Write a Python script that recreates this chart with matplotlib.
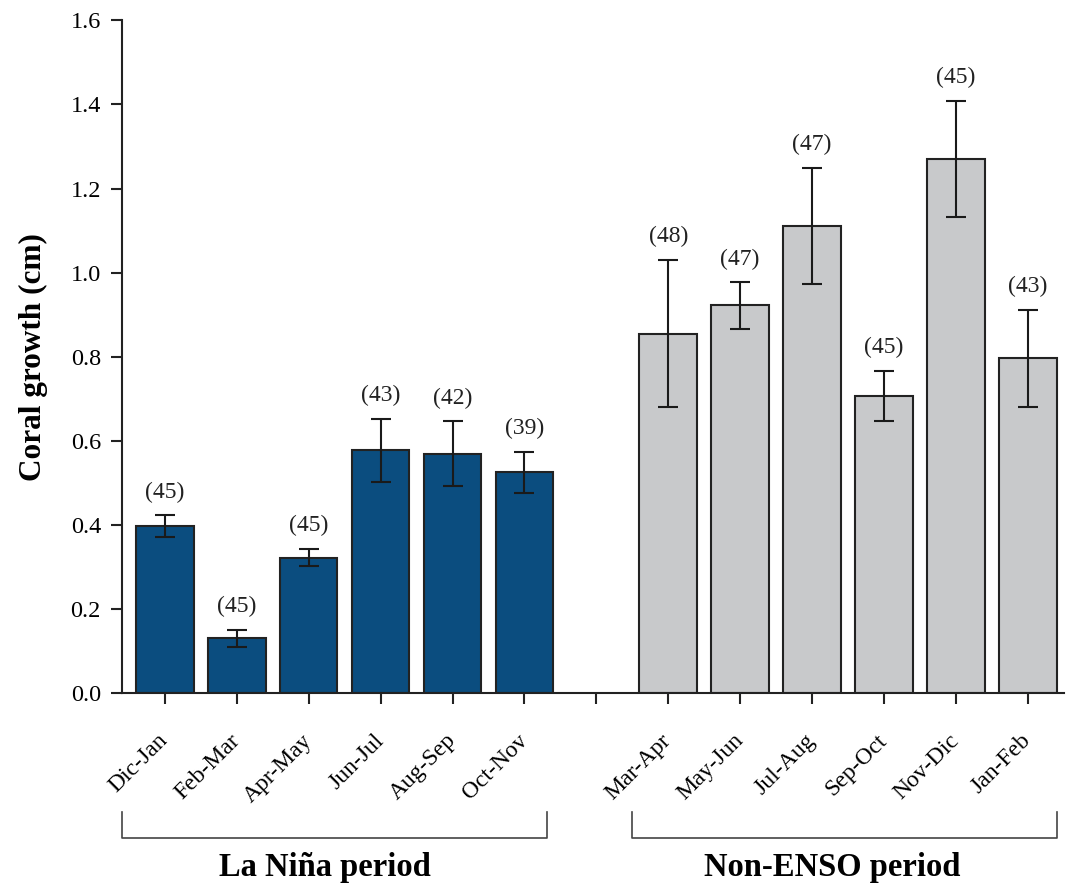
import matplotlib.pyplot as plt
import matplotlib.transforms as mtransforms
import numpy as np

plt.rcParams['font.family'] = ['Liberation Serif', 'DejaVu Serif']

nina_labels = ["Dic-Jan", "Feb-Mar", "Apr-May", "Jun-Jul", "Aug-Sep", "Oct-Nov"]
nina_growth = [0.397, 0.130, 0.322, 0.577, 0.569, 0.525]
nina_err = [0.026, 0.020, 0.021, 0.075, 0.077, 0.049]
nina_n = [45, 45, 45, 43, 42, 39]

neutral_labels = ["Mar-Apr", "May-Jun", "Jul-Aug", "Sep-Oct", "Nov-Dic", "Jan-Feb"]
neutral_growth = [0.855, 0.922, 1.111, 0.706, 1.271, 0.796]
neutral_err = [0.175, 0.055, 0.138, 0.060, 0.138, 0.115]
neutral_n = [48, 47, 47, 45, 45, 43]

x_nina = np.arange(len(nina_labels))
x_neutral = np.arange(len(neutral_labels)) + len(nina_labels) + 1

fig = plt.figure(figsize=(10.68, 8.84), dpi=100)
ax = fig.add_axes([0.114, 0.216, 0.882, 0.761])

err_kw = dict(ecolor="#1a1a1a", capsize=7, elinewidth=1.5, capthick=1.5)
ax.bar(x_nina, nina_growth, width=0.8, color="#0b4d7f", edgecolor="#222222",
       linewidth=1.5, yerr=nina_err, error_kw=err_kw)
ax.bar(x_neutral, neutral_growth, width=0.8, color="#c8c9cb", edgecolor="#222222",
       linewidth=1.5, yerr=neutral_err, error_kw=err_kw)

for xs, ys, es, ns in [(x_nina, nina_growth, nina_err, nina_n),
                       (x_neutral, neutral_growth, neutral_err, neutral_n)]:
    for x, y, e, n in zip(xs, ys, es, ns):
        ax.annotate("(%d)" % n, (x, y + e), xytext=(0, 9), textcoords="offset points",
                    ha="center", va="bottom", fontsize=17, color="#222222")

ax.set_ylim(0, 1.6)
ax.set_xlim(-0.6, 12.5)
ax.set_yticks(np.arange(0, 1.61, 0.2))
ax.set_yticklabels(["%.1f" % v for v in np.arange(0, 1.61, 0.2)], fontsize=17.5)
ax.set_xticks(list(x_nina) + [len(nina_labels)] + list(x_neutral))
ax.set_xticklabels(nina_labels + [""] + neutral_labels, rotation=45, ha="right",
                   va="center", rotation_mode="anchor", fontsize=17)
ax.tick_params(axis="both", direction="out", length=8, width=1.5, color="#222222")
ax.tick_params(axis="y", pad=7)
ax.tick_params(axis="x", pad=24)
ax.spines["top"].set_visible(False)
ax.spines["right"].set_visible(False)
for s in ["left", "bottom"]:
    ax.spines[s].set_linewidth(1.5)
    ax.spines[s].set_color("#222222")
ax.set_ylabel("Coral growth (cm)", fontsize=22.5, fontweight="bold", labelpad=16)

# period brackets below the axis
trans = mtransforms.blended_transform_factory(ax.transData, ax.transAxes)
for x0, x1, xt, text in [(-0.6, 5.31, 2.22, "La Niña period"),
                         (6.49, 12.4, 9.28, "Non-ENSO period")]:
    ax.plot([x0, x0, x1, x1], [-0.177, -0.215, -0.215, -0.177], color="#444444",
            linewidth=1.2, transform=trans, clip_on=False)
    ax.text(xt, -0.26, text, transform=trans, ha="center", va="center",
            fontsize=23.5, fontweight="bold")

fig.savefig("out.png", dpi=100)
